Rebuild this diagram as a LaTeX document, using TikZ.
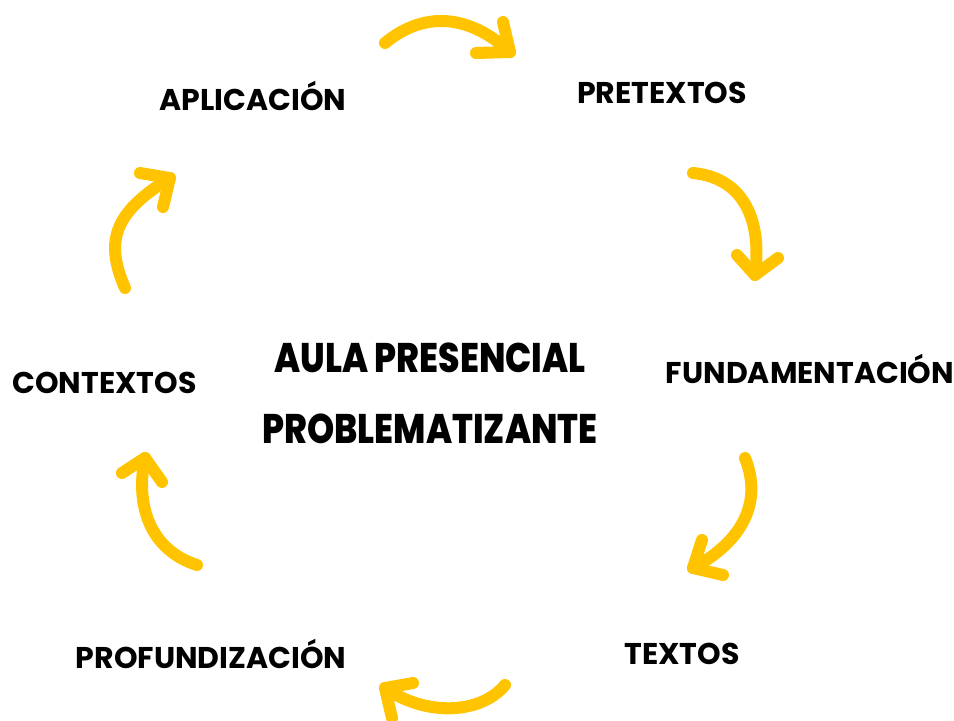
\documentclass[tikz,border=0pt]{standalone}
\usepackage{fontspec}
\setmainfont{Poppins}
\newfontfamily\heavyfont{Poppins ExtraBold}
\definecolor{arrowyellow}{HTML}{FFC300}
\newcommand{\tallbox}[1]{\scalebox{0.98}[1.17]{#1}}
\tikzset{
  cyc/.style={draw=arrowyellow, line width=9pt, line cap=round, line join=round},
  lbl/.style={anchor=base, inner sep=0pt, font=\fontsize{22.5}{26}\selectfont\bfseries},
  ctr/.style={anchor=base, inner sep=0pt, font=\fontsize{26.5}{31}\selectfont\heavyfont}
}
\begin{document}
\begin{tikzpicture}[x=0.75pt,y=-0.75pt]
\useasboundingbox (0,0) rectangle (954,721);
% labels
\node[lbl] (apl) at (253,110) {APLICACIÓN};
\node[lbl] (pre) at (662,103) {PRETEXTOS};
\node[lbl] (fun) at (810,383) {FUNDAMENTACIÓN};
\node[lbl] (con) at (104.5,393) {CONTEXTOS};
\node[lbl] (tex) at (682,664) {TEXTOS};
\node[lbl] (pro) at (211,668) {PROFUNDIZACIÓN};
\node[ctr] (c1) at (430,372) {\tallbox{AULA PRESENCIAL}};
\node[ctr] (c2) at (430,443) {\tallbox{PROBLEMATIZANTE}};
% arrow 1 (top)
\coordinate (a1s) at (385,43); \coordinate (a1t) at (510,52);
\coordinate (a1l) at (503,22); \coordinate (a1r) at (476,53);
\draw[cyc] (a1s) .. controls (425,10) and (470,15) .. (a1t);
\draw[cyc] (a1l) -- (a1t) -- (a1r);
% arrow 2 (right top)
\coordinate (a2s) at (693,173); \coordinate (a2t) at (755,275);
\coordinate (a2l) at (737,255); \coordinate (a2r) at (778,258);
\draw[cyc] (a2s) .. controls (745,178) and (762,222) .. (a2t);
\draw[cyc] (a2l) -- (a2t) -- (a2r);
% arrow 3 (right bottom)
\coordinate (a3s) at (745,458); \coordinate (a3t) at (693,568);
\coordinate (a3l) at (702,540); \coordinate (a3r) at (723,575);
\draw[cyc] (a3s) .. controls (762,500) and (745,540) .. (a3t);
\draw[cyc] (a3l) -- (a3t) -- (a3r);
% arrow 4 (bottom)
\coordinate (a4s) at (505,685); \coordinate (a4t) at (385,688);
\coordinate (a4l) at (413,683); \coordinate (a4r) at (392,718);
\draw[cyc] (a4s) .. controls (480,715) and (425,716) .. (a4t);
\draw[cyc] (a4l) -- (a4t) -- (a4r);
% arrow 5 (left bottom)
\coordinate (a5s) at (197,565); \coordinate (a5t) at (145,458);
\coordinate (a5l) at (122,473); \coordinate (a5r) at (162,482);
\draw[cyc] (a5s) .. controls (150,550) and (135,505) .. (a5t);
\draw[cyc] (a5l) -- (a5t) -- (a5r);
% arrow 6 (left top)
\coordinate (a6s) at (125,288); \coordinate (a6t) at (170,178);
\coordinate (a6l) at (140,173); \coordinate (a6r) at (163,207);
\draw[cyc] (a6s) .. controls (104,240) and (115,212) .. (a6t);
\draw[cyc] (a6l) -- (a6t) -- (a6r);
\end{tikzpicture}
\end{document}
